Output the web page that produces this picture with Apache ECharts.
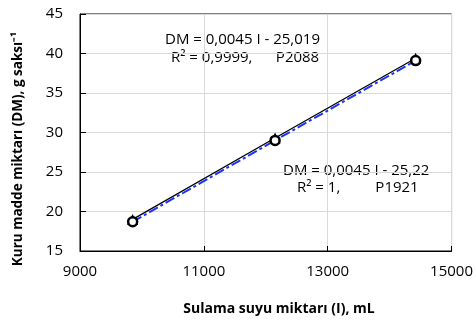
<!DOCTYPE html>
<html lang="tr">
<head>
    <meta charset="UTF-8">
    <title>Kuru madde - sulama suyu</title>
    <style>
        html, body { margin: 0; padding: 0; background: #fff; }
        #main { width: 476px; height: 323px; }
    </style>
</head>
<body>
<div id="main"></div>
<script src="https://cdn.jsdelivr.net/npm/echarts@6/dist/echarts.min.js"></script>
<script>
    // sulama suyu (mL)
    var waterX = [9850, 12150, 14420];
    // P2088 (üçgen)
    var dmP2088 = [19.0, 29.3, 39.4];
    // P1921 (daire)
    var dmP1921 = [18.7, 29.0, 39.1];
    var xTicks = [9000, 11000, 13000, 15000];
    var yTicks = [15, 20, 25, 30, 35, 40, 45];

    function pairs(xs, ys) {
        return xs.map(function (x, i) { return [x, ys[i]]; });
    }

    var font = 'Open Sans';
    var myChart = echarts.init(document.getElementById('main'));

    var option = {
        backgroundColor: '#fff',
        animation: false,
        grid: {
            left: 80, right: 23, top: 14, bottom: 72,
            show: true,
            borderColor: '#000',
            borderWidth: 1
        },
        xAxis: {
            type: 'value',
            min: xTicks[0],
            max: xTicks[xTicks.length - 1],
            interval: 2000,
            axisLine: { lineStyle: { color: '#000', width: 1 } },
            axisTick: { inside: true, length: 5, lineStyle: { color: '#000' } },
            splitLine: { show: true, lineStyle: { color: '#d9d9d9' } },
            axisLabel: {
                color: '#000', fontSize: 15, fontFamily: font, margin: 13,
                formatter: function (v) { return String(v); }
            }
        },
        yAxis: {
            type: 'value',
            min: yTicks[0],
            max: yTicks[yTicks.length - 1],
            interval: 5,
            axisLine: { show: true, lineStyle: { color: '#000', width: 1 } },
            axisTick: { show: true, inside: true, length: 6, lineStyle: { color: '#000' } },
            splitLine: { show: true, lineStyle: { color: '#d9d9d9' } },
            axisLabel: { color: '#000', fontSize: 15, fontFamily: font, margin: 17 }
        },
        series: [{
            name: 'P2088',
            type: 'line',
            data: pairs(waterX, dmP2088),
            symbol: 'triangle',
            symbolSize: 11,
            itemStyle: { color: '#000' },
            lineStyle: { color: '#000', width: 1.3 },
            z: 2
        }, {
            name: 'P1921',
            type: 'line',
            data: pairs(waterX, dmP1921),
            symbol: 'circle',
            symbolSize: 9,
            itemStyle: { color: '#fff', borderColor: '#000', borderWidth: 2.5 },
            lineStyle: { color: '#1a33ff', width: 2, type: [10, 3, 3, 3] },
            z: 3
        }],
        graphic: [{
            type: 'text', x: 165, y: 40,
            style: { text: 'DM = 0,0045 I - 25,019', font: '15px "Open Sans"', fill: '#000', verticalAlign: 'middle' }
        }, {
            type: 'text', x: 171, y: 58,
            style: { text: 'R² = 0,9999,      P2088', font: '15px "Open Sans"', fill: '#000', verticalAlign: 'middle' }
        }, {
            type: 'text', x: 283, y: 171,
            style: { text: 'DM = 0,0045 I - 25,22', font: '15px "Open Sans"', fill: '#000', verticalAlign: 'middle' }
        }, {
            type: 'text', x: 297, y: 188,
            style: { text: 'R² = 1,         P1921', font: '15px "Open Sans"', fill: '#000', verticalAlign: 'middle' }
        }, {
            type: 'text', x: 279, y: 309,
            style: {
                text: 'Sulama suyu miktarı (I), mL',
                font: 'bold 14px "Open Sans"', fill: '#000',
                align: 'center', verticalAlign: 'middle'
            }
        }, {
            type: 'text', x: 18, y: 149, rotation: Math.PI / 2,
            style: {
                text: 'Kuru madde miktarı (DM), g saksı⁻¹',
                font: 'bold 13.5px "Open Sans"', fill: '#000',
                align: 'center', verticalAlign: 'middle'
            }
        }]
    };

    myChart.setOption(option);
</script>
</body>
</html>
